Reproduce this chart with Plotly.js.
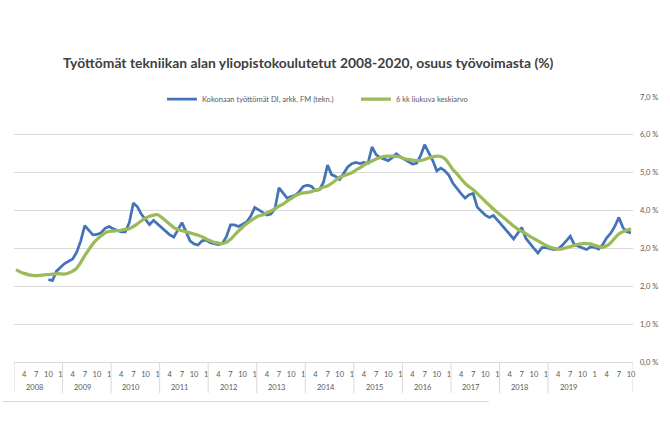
<!DOCTYPE html>
<html>
<head>
<meta charset="utf-8">
<script src="https://cdn.plot.ly/plotly-3.0.1.min.js"></script>
<style>
  body { margin: 0; background: #ffffff; }
  #chart { width: 670px; height: 448px; }
</style>
</head>
<body>
<div id="chart"></div>
<script>
// Year groups on the category axis (each group starts in February, the last one runs to Oct 2020).
const yearLabels = ['2008', '2009', '2010', '2011', '2012', '2013', '2014', '2015', '2016', '2017', '2018', '2019'];
const groupLengths = [12, 12, 12, 12, 12, 12, 12, 12, 12, 12, 12, 21];
const firstMonth = 2;
const shownMonths = [1, 4, 7, 10];

// Unemployed share of the labour force (%), monthly from Feb 2008.
const totalUnemployed = [
    null, null, null, null, null, null, null, null, 2.18, 2.15, 2.40, 2.50,
    2.60, 2.66, 2.72, 2.90, 3.20, 3.60, 3.47, 3.36, 3.37, 3.41, 3.53, 3.58,
    3.52, 3.47, 3.44, 3.44, 3.68, 4.20, 4.10, 3.90, 3.75, 3.63, 3.74, 3.64,
    3.55, 3.44, 3.36, 3.30, 3.48, 3.68, 3.45, 3.20, 3.12, 3.09, 3.20, 3.22,
    3.15, 3.12, 3.10, 3.13, 3.31, 3.62, 3.62, 3.58, 3.65, 3.70, 3.85, 4.08,
    4.02, 3.95, 3.88, 3.91, 4.05, 4.60, 4.45, 4.33, 4.37, 4.40, 4.50, 4.64,
    4.67, 4.64, 4.53, 4.55, 4.75, 5.20, 4.95, 4.90, 4.82, 4.98, 5.15, 5.24,
    5.27, 5.24, 5.27, 5.25, 5.68, 5.48, 5.40, 5.36, 5.32, 5.40, 5.50, 5.42,
    5.35, 5.28, 5.23, 5.25, 5.45, 5.74, 5.52, 5.32, 5.05, 5.12, 5.05, 4.93,
    4.72, 4.57, 4.45, 4.33, 4.42, 4.45, 4.09, 3.98, 3.88, 3.82, 3.87, 3.75,
    3.63, 3.50, 3.38, 3.25, 3.40, 3.55, 3.27, 3.12, 3.00, 2.88, 3.02, 3.02,
    2.99, 2.97, 2.99, 3.08, 3.20, 3.32, 3.10, 3.05, 3.00, 2.97, 3.04, 3.03,
    2.98, 3.10, 3.28, 3.40, 3.58, 3.82, 3.55, 3.44, 3.41
];

// 6 month moving average (%).
const movingAverage = [
    2.44, 2.38, 2.34, 2.31, 2.29, 2.28, 2.29, 2.30, 2.31, 2.32, 2.33, 2.33,
    2.32, 2.35, 2.40, 2.48, 2.63, 2.81, 2.97, 3.12, 3.24, 3.33, 3.41, 3.45,
    3.46, 3.47, 3.48, 3.50, 3.52, 3.58, 3.65, 3.73, 3.80, 3.85, 3.88, 3.89,
    3.82, 3.73, 3.64, 3.55, 3.50, 3.47, 3.44, 3.41, 3.38, 3.35, 3.31, 3.25,
    3.20, 3.16, 3.14, 3.13, 3.16, 3.24, 3.35, 3.46, 3.56, 3.65, 3.73, 3.80,
    3.86, 3.89, 3.94, 3.99, 4.05, 4.12, 4.17, 4.25, 4.32, 4.39, 4.44, 4.47,
    4.48, 4.50, 4.54, 4.57, 4.62, 4.65, 4.72, 4.80, 4.88, 4.92, 4.96, 5.00,
    5.07, 5.13, 5.20, 5.26, 5.31, 5.36, 5.40, 5.43, 5.44, 5.44, 5.43, 5.41,
    5.37, 5.35, 5.33, 5.32, 5.32, 5.35, 5.39, 5.42, 5.44, 5.43, 5.37, 5.24,
    5.08, 4.97, 4.84, 4.72, 4.63, 4.55, 4.45, 4.35, 4.24, 4.14, 4.04, 3.95,
    3.86, 3.77, 3.68, 3.59, 3.51, 3.45, 3.39, 3.32, 3.26, 3.20, 3.14, 3.08,
    3.03, 3.00, 2.98, 2.99, 3.02, 3.05, 3.08, 3.11, 3.13, 3.13, 3.12, 3.08,
    3.05, 3.03, 3.07, 3.15, 3.27, 3.38, 3.44, 3.48, 3.52
];

const labelFont = { family: 'Lato, sans-serif', size: 7.5, color: '#595959' };

// Month number of every category and the every-third-month tick labels.
const idx = totalUnemployed.map((_, i) => i);
const months = idx.map(i => ((firstMonth - 1 + i) % 12) + 1);
const tickvals = idx.filter(i => shownMonths.includes(months[i]));
const ticktext = tickvals.map(i => String(months[i]));

// Year group separators and labels below the month labels.
const shapes = [];
const annotations = [];
let start = 0;
yearLabels.forEach((year, k) => {
    shapes.push({
        type: 'line', xref: 'x', yref: 'paper',
        x0: start - 0.5, x1: start - 0.5, y0: 0, y1: -0.117,
        line: { color: '#d9d9d9', width: 1 }
    });
    annotations.push({
        xref: 'x', yref: 'paper', x: start + 4.5, y: -0.098, yanchor: 'middle',
        text: year, showarrow: false, font: labelFont
    });
    start += groupLengths[k];
});
shapes.push({
    type: 'line', xref: 'x', yref: 'paper',
    x0: start - 0.5, x1: start - 0.5, y0: 0, y1: -0.117,
    line: { color: '#d9d9d9', width: 1 }
});
// Thin rule under the whole chart.
shapes.push({
    type: 'line', xref: 'paper', yref: 'paper',
    x0: -0.018, x1: 0.767, y0: -0.149, y1: -0.149,
    line: { color: '#d9d9d9', width: 1 }
});

Plotly.newPlot(document.getElementById('chart'), [
    {
        x: idx,
        y: totalUnemployed,
        type: 'scatter',
        mode: 'lines',
        name: 'Kokonaan työttömät DI, arkk. FM (tekn.)',
        line: { color: '#4573b9', width: 2.75 }
    },
    {
        x: idx,
        y: movingAverage,
        type: 'scatter',
        mode: 'lines',
        name: '6 kk liukuva keskiarvo',
        line: { color: '#9bbb59', width: 3.25, shape: 'spline', smoothing: 0.6 }
    }
], {
    title: {
        text: '<b>Työttömät tekniikan alan yliopistokoulutetut 2008-2020, osuus työvoimasta (%)</b>',
        font: { family: 'Lato, sans-serif', size: 13.9, color: '#404040' },
        x: 0.46, xanchor: 'center', y: 0.86, yanchor: 'middle'
    },
    separators: ', ',
    xaxis: {
        range: [-0.5, 152.5],
        tickvals: tickvals,
        ticktext: ticktext,
        tickangle: 0,
        ticks: '',
        ticklabelstandoff: 6,
        showgrid: false,
        zeroline: false,
        showline: false,
        tickfont: labelFont,
        fixedrange: true
    },
    yaxis: {
        side: 'right',
        range: [0, 7],
        dtick: 1,
        tickformat: '.1f',
        ticksuffix: ' %',
        gridcolor: '#d9d9d9',
        zeroline: true,
        zerolinecolor: '#d9d9d9',
        zerolinewidth: 1,
        showline: false,
        ticks: '',
        ticklabelstandoff: 6,
        tickfont: labelFont,
        fixedrange: true
    },
    legend: {
        orientation: 'h',
        x: 0.239, xanchor: 'left',
        y: 0.992, yanchor: 'middle',
        font: labelFont,
        bgcolor: 'rgba(0,0,0,0)',
        entrywidth: 149
    },
    shapes: shapes,
    annotations: annotations,
    showlegend: true,
    margin: { l: 14, r: 37, t: 97, b: 86 },
    width: 670,
    height: 448,
    paper_bgcolor: '#ffffff',
    plot_bgcolor: '#ffffff'
}, { staticPlot: true });
</script>
</body>
</html>
